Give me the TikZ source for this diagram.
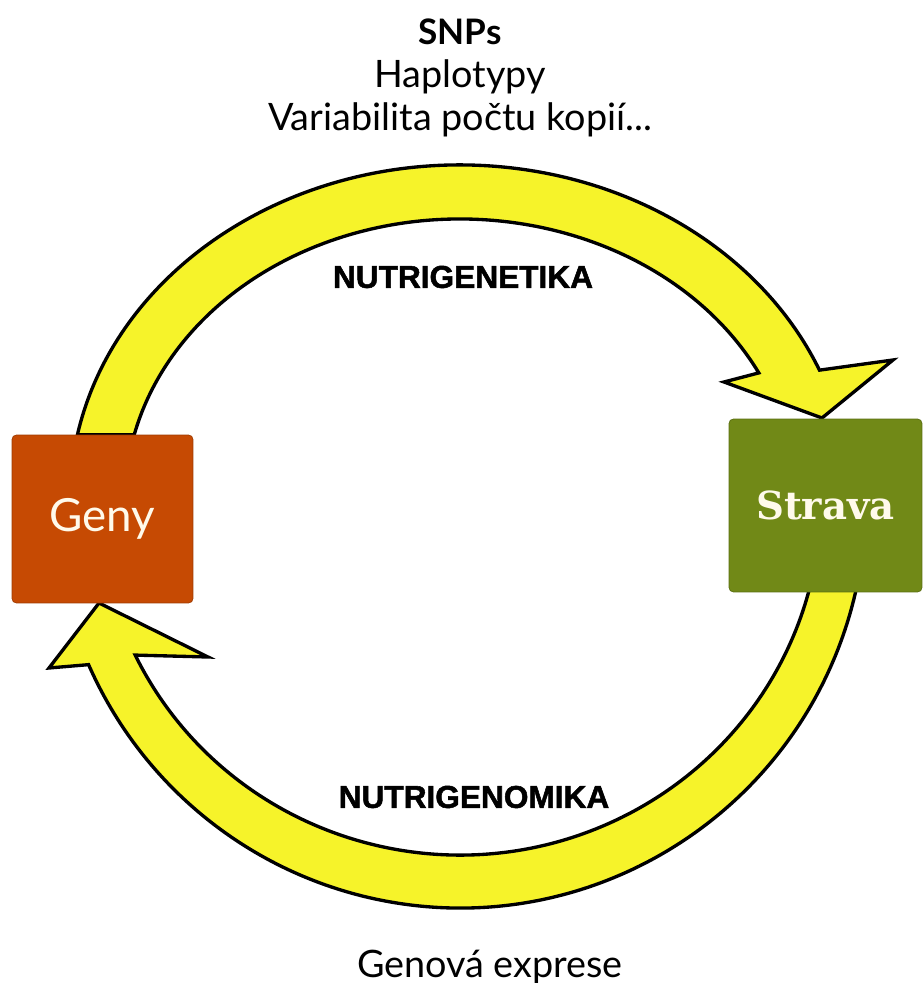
\documentclass[tikz,border=0pt]{standalone}
\usepackage{fontspec}
\setmainfont{Lato}
\newfontfamily\labelfont{Liberation Sans}[BoldFeatures={FakeBold=1.6}]
\newfontfamily\serfont{DejaVu Serif}
\definecolor{arrowyellow}{RGB}{246,243,42}
\definecolor{genycol}{RGB}{198,74,3}
\definecolor{stravacol}{RGB}{113,137,23}
\definecolor{boxtext}{RGB}{255,250,235}
\begin{document}
\begin{tikzpicture}[x=0.02cm,y=0.02cm,
  band/.style={fill=arrowyellow,draw=black,line width=1.9pt,line join=miter},
  box/.style={rounded corners=2.5pt,inner sep=0pt},
  toptext/.style={font=\fontsize{21.5}{25}\selectfont},
  mainlabel/.style={font=\labelfont\bfseries\fontsize{18}{21}\selectfont}]
\useasboundingbox (0,0) rectangle (923,983);
% upper arrow (Geny -> Strava)
\path[band] (77.4,548.1) arc[start angle=168.8,end angle=22.8,x radius=390,y radius=335]
  -- (893,623) -- (822,565) -- (724,601) -- (758.8,610.1)
  arc[start angle=26.9,end angle=166.6,x radius=335,y radius=281] -- cycle;
% lower arrow (Strava -> Geny)
\path[band] (856.1,393.3) arc[start angle=-12.7,end angle=-156.2,x radius=406,y radius=408]
  -- (49,315) -- (99,380) -- (208,326) -- (135.2,327.9)
  arc[start angle=-154.1,end angle=-14.7,x radius=361,y radius=355] -- cycle;
% boxes
\node[box,fill=genycol,draw=genycol!80!black,minimum width=3.62cm,minimum height=3.36cm,
  text=boxtext,font=\fontsize{26}{29}\selectfont] (geny) at (102.5,464) {Geny};
\node[box,fill=stravacol,draw=stravacol!80!black,minimum width=3.86cm,minimum height=3.46cm,
  text=boxtext,font=\serfont\bfseries\fontsize{22}{25}\selectfont] (strava) at (825.5,477.5) {Strava};
% texts
\node[font=\bfseries\fontsize{20}{24}\selectfont] (snps) at (460,951) {SNPs};
\node[toptext] (hap) at (460,906) {Haplotypy};
\node[toptext] (var) at (460,863) {Variabilita počtu kopií...};
\node[mainlabel] (ngt) at (463,706) {NUTRIGENETIKA};
\node[mainlabel] (ngm) at (474,186) {NUTRIGENOMIKA};
\node[toptext] (expr) at (490,16) {Genová exprese};
\end{tikzpicture}
\end{document}
